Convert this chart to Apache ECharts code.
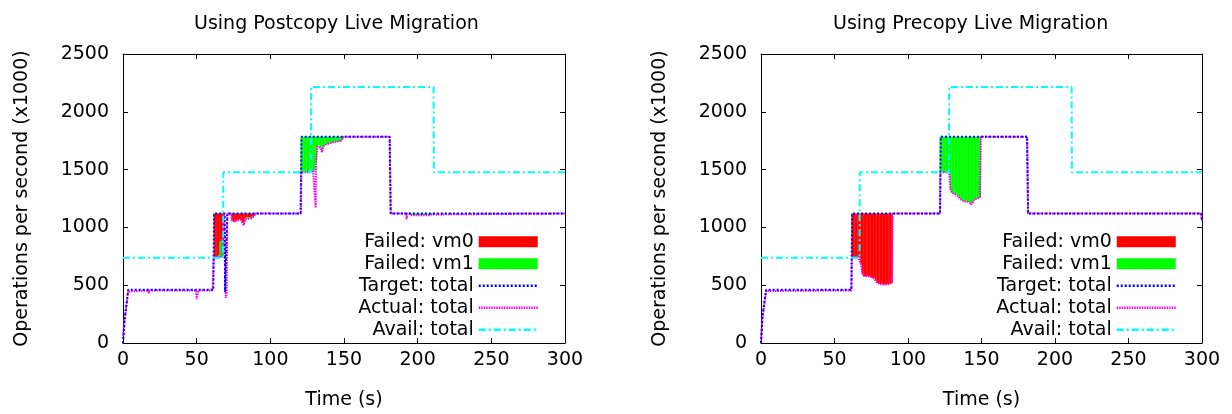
<!DOCTYPE html>
<html>
<head>
<meta charset="utf-8">
<title>Postcopy vs Precopy live migration</title>
<script src="https://cdn.jsdelivr.net/npm/echarts@6/dist/echarts.min.js"></script>
<style>
    html, body { margin: 0; padding: 0; background: #fff; }
    #main { width: 1232px; height: 414px; }
</style>
</head>
<body>
<div id="main"></div>
<script>
// time in seconds, operations per second in thousands
var postTarget = [[0,0],[1,180],[3.5,460],[61.3,460],[61.8,1120],[69,1120],[69.3,440],[70.5,440],[70.8,1120],
    [120.5,1120],[121.2,1785],[181,1785],[181.7,1120],[300,1120]];
var postAvail = [[0,738],[67.9,738],[68.1,1476],[127.5,1476],[127.7,2214],[210.8,2214],[211,1476],[300,1476]];
// actual outside the failure windows (the windows add their own low points)
var postActual = [[0,40],[1,200],[3.5,445],[4.5,455],[17,455],[17.5,430],[18,455],[49.6,455],[50,380],[50.6,420],
    [51.2,455],[60.8,455],[61.6,745],[68.5,1120],[69.4,1120],[69.8,390],[70.3,420],[70.8,1120],[73.5,1120],
    [89.6,1120],[120.8,1120],[121.2,1476],[130.8,1170],[149.6,1785],[181,1785],[181.7,1120],[192,1120],
    [192.5,1070],[193,1120],[194.5,1120],[210.6,1120],[300,1120]];
// failure windows: [time, actual, top of vm1 failures, target]
var postFail = [
    [62,745,745,1120],[63,745,745,1120],[64,745,745,1120],[65,745,760,1120],[66,745,880,1120],
    [67,745,900,1120],[68,750,860,1120],
    [74,1060,1060,1120],[75,1050,1050,1120],[76,1050,1050,1120],[77,1060,1060,1120],[78,1065,1065,1120],
    [79,1070,1070,1120],[80,1065,1065,1120],[81,1040,1045,1120],[82,1020,1040,1120],[83,1070,1080,1120],
    [84,1075,1085,1120],[85,1075,1085,1120],[86,1080,1090,1120],[87,1080,1090,1120],[88,1085,1095,1120],
    [89,1095,1100,1120],
    [121,1476,1785,1785],[122,1476,1785,1785],[123,1476,1785,1785],[124,1476,1785,1785],[125,1476,1785,1785],
    [126,1476,1785,1785],[127,1476,1785,1785],[128,1490,1785,1785],[129,1495,1785,1785],[130,1485,1785,1785],
    [131,1560,1785,1785],[132,1700,1785,1785],[133,1710,1785,1785],[134,1690,1785,1785],[135,1650,1785,1785],
    [136,1700,1785,1785],[137,1715,1785,1785],[138,1720,1785,1785],[139,1720,1785,1785],[140,1725,1785,1785],
    [141,1730,1785,1785],[142,1735,1785,1785],[143,1735,1785,1785],[144,1740,1785,1785],[145,1740,1785,1785],
    [146,1745,1785,1785],[147,1745,1785,1785],[148,1750,1785,1785],[149,1760,1785,1785],
    [195,1108,1120,1120],[196,1105,1120,1120],[197,1108,1120,1120],[198,1104,1120,1120],[199,1108,1120,1120],
    [200,1106,1120,1120],[201,1108,1120,1120],[202,1105,1120,1120],[203,1108,1120,1120],[204,1106,1120,1120],
    [205,1108,1120,1120],[206,1105,1120,1120],[207,1108,1120,1120],[208,1106,1120,1120],[209,1110,1120,1120],
    [210,1112,1120,1120]
];

var preTarget = [[0,0],[1,230],[3.5,460],[61.5,460],[62,1120],[121.8,1120],[122.3,1785],[181,1785],
    [181.7,1120],[299.5,1120],[300,1050]];
var preAvail = [[0,738],[67,738],[67.2,1476],[127.8,1476],[128,2214],[211.3,2214],[211.5,1476],[300,1476]];
var preActual = [[0,10],[1,220],[3.5,450],[4.5,455],[61.5,455],[61.8,740],[89.6,1120],[121.8,1120],
    [122.2,1476],[149.6,1785],[181,1785],[181.7,1120],[199,1120],[199.5,1105],[200,1120],[299.5,1120],[300,1060]];
var preFail = [
    [62,740,740,1120],[63,740,740,1120],[64,740,740,1120],[65,745,745,1120],[66,745,745,1120],
    [67,740,740,1120],[68,680,680,1120],[69,600,600,1120],[70,580,580,1120],[71,575,575,1120],
    [72,580,580,1120],[73,575,575,1120],[74,575,575,1120],[75,570,570,1120],[76,565,565,1120],
    [77,560,560,1120],[78,540,540,1120],[79,520,520,1120],[80,515,515,1120],[81,510,510,1120],
    [82,510,510,1120],[83,505,505,1120],[84,505,505,1120],[85,505,505,1120],[86,510,510,1120],
    [87,510,510,1120],[88,515,515,1120],[89,520,520,1120],
    [122,1476,1785,1785],[123,1476,1785,1785],[124,1476,1785,1785],[125,1476,1785,1785],[126,1476,1785,1785],
    [127,1476,1785,1785],[128,1476,1785,1785],[129,1320,1785,1785],[130,1300,1785,1785],[131,1290,1785,1785],
    [132,1285,1785,1785],[133,1283,1785,1785],[134,1270,1785,1785],[135,1255,1785,1785],[136,1240,1785,1785],
    [137,1228,1785,1785],[138,1225,1785,1785],[139,1225,1785,1785],[140,1225,1785,1785],[141,1222,1785,1785],
    [142,1215,1785,1785],[143,1196,1785,1785],[144,1215,1785,1785],[145,1240,1785,1785],[146,1245,1785,1785],
    [147,1250,1785,1785],[148,1255,1785,1785],[149,1260,1785,1785]
];

var names = ['Failed: vm0', 'Failed: vm1', 'Target: total', 'Actual: total', 'Avail: total'];
var titles = ['Using Postcopy Live Migration', 'Using Precopy Live Migration'];

var FONT = 'DejaVu Sans';
var txt = { fontFamily: FONT, fontSize: 19, color: '#000' };

var colors = { vm0: '#ff0000', vm1: '#00ff00', target: '#0000ff', actual: '#ff00ff', avail: '#00ffff' };
var dashes = { target: [2, 2], actual: [1.5, 1], avail: [7, 3, 2, 3] };

// actual line = outside points + the low edge of every failure sample
function actualLine(pts, fails) {
    return pts.concat(fails.map(function (r) { return [r[0], r[1]]; }))
        .sort(function (a, b) { return a[0] - b[0]; });
}

function failSeries(name, rows, lo, hi, ai, color) {
    return {
        name: name, type: 'custom', xAxisIndex: ai, yAxisIndex: ai, z: 2,
        itemStyle: { color: color },
        data: rows.map(function (r) { return [r[0], r[lo], r[hi]]; }),
        encode: { x: 0, y: [1, 2] },
        renderItem: function (params, api) {
            var t = api.value(0);
            var a = api.coord([t - 0.5, api.value(1)]);
            var b = api.coord([t + 0.5, api.value(2)]);
            return {
                type: 'rect',
                shape: { x: a[0], y: b[1], width: b[0] - a[0] + 0.3, height: a[1] - b[1] },
                style: { fill: color }
            };
        }
    };
}

function lineSeries(name, data, ai, color, dash, z) {
    return {
        name: name, type: 'line', xAxisIndex: ai, yAxisIndex: ai, z: z,
        data: data, symbol: 'none', silent: true,
        lineStyle: { color: color, width: 2, type: dash },
        itemStyle: { color: color }
    };
}

function axisPair(gi, isX) {
    var base = {
        gridIndex: gi, type: 'value', min: 0,
        max: isX ? 300 : 2500, interval: isX ? 50 : 500,
        axisLine: { onZero: false, lineStyle: { color: '#000', width: 1 } },
        axisTick: { inside: true, length: 5, lineStyle: { color: '#000' } },
        splitLine: { show: false }
    };
    var main = Object.assign({}, base, {
        position: isX ? 'bottom' : 'left',
        name: isX ? 'Time (s)' : 'Operations per second (x1000)',
        nameLocation: 'middle', nameGap: isX ? 48 : 91,
        nameTextStyle: txt,
        axisLabel: Object.assign({ margin: isX ? 8 : 14, formatter: function (v) { return String(v); } }, txt)
    });
    var mirror = Object.assign({}, base, {
        position: isX ? 'top' : 'right',
        axisLabel: { show: false }
    });
    return [main, mirror];
}

function lineKey(name, key) {
    return {
        name: name,
        itemStyle: { opacity: 0 },
        lineStyle: { color: colors[key], width: 2.5, type: dashes[key], opacity: 1 }
    };
}
var legendData = [
    { name: names[0], icon: 'rect' },
    { name: names[1], icon: 'rect' },
    lineKey(names[2], 'target'),
    lineKey(names[3], 'actual'),
    lineKey(names[4], 'avail')
];
function legend(right) {
    return {
        orient: 'vertical', align: 'right', right: right, top: 232, padding: 0,
        itemWidth: 59, itemHeight: 11, itemGap: 2.3, selectedMode: false,
        textStyle: Object.assign({ lineHeight: 19.7 }, txt),
        data: legendData
    };
}

var sets = [
    { target: postTarget, avail: postAvail, actual: actualLine(postActual, postFail), fail: postFail },
    { target: preTarget, avail: preAvail, actual: actualLine(preActual, preFail), fail: preFail }
];

var series = [];
sets.forEach(function (s, i) {
    var ai = i * 2;
    series.push(failSeries(names[0], s.fail, 2, 3, ai, colors.vm0));
    series.push(failSeries(names[1], s.fail, 1, 2, ai, colors.vm1));
    series.push(lineSeries(names[2], s.target, ai, colors.target, dashes.target, 4));
    series.push(lineSeries(names[3], s.actual, ai, colors.actual, dashes.actual, 3));
    series.push(lineSeries(names[4], s.avail, ai, colors.avail, dashes.avail, 5));
});

var myChart = echarts.init(document.getElementById('main'));
myChart.setOption({
    animation: false,
    backgroundColor: '#fff',
    title: [
        { text: titles[0], left: 189, top: 10, textStyle: Object.assign({ fontWeight: 'normal' }, txt) },
        { text: titles[1], left: 828, top: 10, textStyle: Object.assign({ fontWeight: 'normal' }, txt) }
    ],
    legend: [legend(693), legend(55)],
    grid: [
        { left: 123, top: 54, width: 442, height: 289, outerBoundsMode: 'none', containLabel: false },
        { left: 761, top: 54, width: 441, height: 289, outerBoundsMode: 'none', containLabel: false }
    ],
    xAxis: axisPair(0, true).concat(axisPair(1, true)),
    yAxis: axisPair(0, false).concat(axisPair(1, false)),
    series: series
});
</script>
</body>
</html>
